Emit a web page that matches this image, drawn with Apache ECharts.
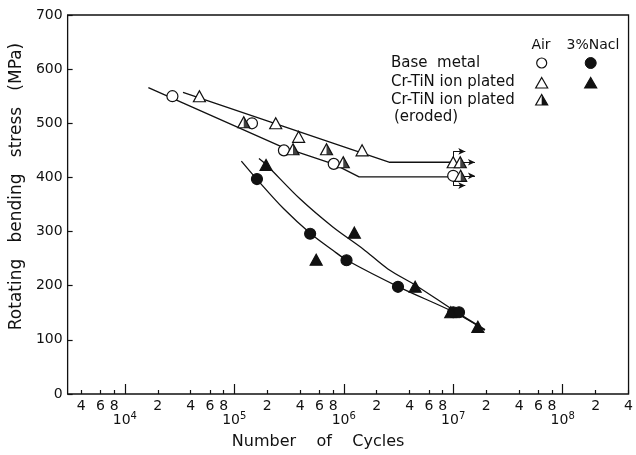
<!DOCTYPE html>
<html>
<head>
<meta charset="utf-8">
<script src="https://cdn.jsdelivr.net/npm/echarts@6/dist/echarts.min.js"></script>
<style>html,body{margin:0;padding:0;background:#fff}#c{width:636px;height:455px}</style>
</head>
<body>
<div id="c"></div>
<script>
// ---- data (cycles, stress MPa) ----
const baseAir = [[2.72e4,550],[1.45e5,500],[2.84e5,450],[8.1e5,425],[1.0e7,403]];
const crtinAir = [[4.8e4,550],[2.39e5,500],[3.87e5,475],[1.47e6,450],[1.0e7,428]];
const crtinErodedAir = [[1.22e5,502],[3.44e5,452],[6.96e5,452],[9.9e5,428],[1.16e7,428],[1.17e7,403]];
const baseNaCl = [[1.61e5,397],[4.93e5,296],[1.06e6,247],[3.13e6,198],[1.0e7,151],[1.13e7,151]];
const crtinNaCl = [[1.95e5,423],[5.6e5,248],[1.25e6,298],[4.49e6,198],[9.5e6,151],[1.68e7,124]];

// fitted S-N lines
const baseAirLine = [[1.64e4,566],[2.69e5,457],[8.22e5,424],[1.38e6,401],[1.0e7,401]];
const crtinAirLine = [[3.4e4,557],[2.63e6,428],[1.0e7,428]];
const baseNaClCurve = [[1.16e5,430],[1.6e5,397],[2.83e5,342],[5.0e5,296],[8.0e5,265],[1.07e6,247],[3.24e6,197],[1.02e7,151],[1.95e7,118]];
const crtinNaClCurve = [[1.68e5,435],[1.97e5,423],[4.0e5,360],[8.0e5,308],[1.5e6,268],[2.53e6,231],[4.6e6,200],[1.02e7,154],[1.95e7,119]];

// run-out (unbroken) indicators: [from, to, arrow?]
const runouts = [
  [[1.0e7,437],[1.0e7,448],false],
  [[1.0e7,448],[1.29e7,448],true],
  [[1.16e7,428],[1.58e7,428],true],
  [[1.17e7,403],[1.58e7,403],true],
  [[1.0e7,394],[1.0e7,385],false],
  [[1.0e7,385],[1.29e7,385],true]
];

// axes
const xMin = 3000, xMax = 4e8;
const minorTicks = [4e3,6e3,8e3,2e4,4e4,6e4,8e4,2e5,4e5,6e5,8e5,2e6,4e6,6e6,8e6,2e7,4e7,6e7,8e7,2e8,4e8];
const decadeTicks = [1e4,1e5,1e6,1e7,1e8];
const yMin = 0, yMax = 700, yStep = 100;

const FONT = 'DejaVu Sans';
const chart = echarts.init(document.getElementById('c'));

const half = 'path://M0,0 L1,1 L0,1 Z';
const markData = runouts.map(r => [
  {coord: r[0], symbol: 'none'},
  {coord: r[1], symbol: r[2] ? 'arrow' : 'none'}
]);

function lineSeries(data, smooth) {
  return {type:'line', data, smooth: smooth ? 0.3 : false,
    symbol:'none', silent:true, lineStyle:{color:'#111', width:1.3}, z:2, animation:false};
}
function scatter(data, symbol, fill, size, extra) {
  return Object.assign({type:'scatter', data, symbol, symbolSize:size, silent:true, animation:false,
    itemStyle:{color:fill, borderColor:'#111', borderWidth:1.2, opacity:1}, z:5}, extra||{});
}

const lx = 541.7, nx = 590.7;
const txt = (t, x, y, align, size) => ({type:'text', x, y, style:{text:t, fill:'#111', font:(size||15)+'px "'+FONT+'"', textAlign:align||'left', textVerticalAlign:'middle'}});
const tri = (cx, cy, fill) => ({type:'polygon', shape:{points:[[cx,cy-5.5],[cx+6,cy+5],[cx-6,cy+5]]}, style:{fill, stroke:'#111', lineWidth:1.2}});

chart.setOption({
  animation:false,
  grid:{left:67, right:3, top:15, bottom:59, show:true, borderColor:'#111', borderWidth:1.3, backgroundColor:'transparent'},
  xAxis:[
    {type:'log', min:xMin, max:xMax, position:'bottom',
     axisLine:{show:false}, axisTick:{show:false}, axisLabel:{show:false}, splitLine:{show:false},
     name:'Number    of    Cycles', nameLocation:'middle', nameGap:40,
     nameTextStyle:{fontFamily:FONT, fontSize:16, color:'#111', padding:[0,60,0,0]}},
    {type:'value', min:Math.log10(xMin), max:Math.log10(xMax), position:'bottom',
     axisLine:{show:false}, splitLine:{show:false},
     axisTick:{show:true, inside:true, length:4, customValues:minorTicks.map(Math.log10), lineStyle:{color:'#111', width:1.2}},
     axisLabel:{customValues:minorTicks.map(Math.log10), margin:5, fontFamily:FONT, fontSize:14, color:'#111',
       formatter:v => String(Math.round(Math.pow(10, v - Math.floor(v + 1e-9))))}},
    {type:'value', min:Math.log10(xMin), max:Math.log10(xMax), position:'bottom',
     axisLine:{show:false}, splitLine:{show:false},
     axisTick:{show:true, inside:true, length:10, customValues:decadeTicks.map(Math.log10), lineStyle:{color:'#111', width:1.2}},
     axisLabel:{customValues:decadeTicks.map(Math.log10), margin:17, color:'#111',
       formatter:v => '{b|10}{s|' + Math.round(v) + '}',
       rich:{b:{fontFamily:FONT, fontSize:14, color:'#111'}, s:{fontFamily:FONT, fontSize:10, color:'#111', padding:[0,0,8,0]}}}}
  ],
  yAxis:[{type:'value', min:yMin, max:yMax, interval:yStep,
    axisLine:{show:false}, splitLine:{show:false},
    axisTick:{show:true, inside:true, length:5, lineStyle:{color:'#111', width:1.2}},
    axisLabel:{margin:5, fontFamily:FONT, fontSize:14, color:'#111'},
    name:'Rotating   bending   stress   (MPa)', nameLocation:'middle', nameGap:34,
    nameTextStyle:{fontFamily:FONT, fontSize:17, color:'#111', padding:[0,0,0,36]}}],
  series:[
    Object.assign(lineSeries(baseAirLine,false), {markLine:{silent:true, animation:false, symbolSize:[5,7], label:{show:false},
      lineStyle:{color:'#111', width:1, type:'solid'}, data:markData}}),
    lineSeries(crtinAirLine,false),
    lineSeries(baseNaClCurve,true),
    lineSeries(crtinNaClCurve,true),
    scatter(baseAir,'circle','#fff',11),
    scatter(crtinAir,'triangle','#fff',[12,11]),
    scatter(crtinErodedAir,'triangle','#fff',[12,11]),
    scatter(crtinErodedAir,half,'#111',[6,11],{symbolOffset:[3,0], itemStyle:{color:'#111', borderWidth:0}, z:6}),
    scatter(baseNaCl,'circle','#111',11),
    scatter(crtinNaCl,'triangle','#111',[12,11])
  ],
  graphic:[
    txt('Air', 541, 45, 'center', 14),
    txt('3%Nacl', 593, 45, 'center', 14),
    txt('Base  metal', 391, 63),
    txt('Cr-TiN ion plated', 391, 82),
    txt('Cr-TiN ion plated', 391, 100),
    txt('(eroded)', 394, 117),
    {type:'circle', shape:{cx:lx, cy:63, r:5}, style:{fill:'#fff', stroke:'#111', lineWidth:1.2}},
    {type:'circle', shape:{cx:nx, cy:63, r:5.5}, style:{fill:'#111', stroke:'#111', lineWidth:1}},
    tri(lx, 83, '#fff'),
    tri(nx, 83, '#111'),
    tri(lx, 100, '#fff'),
    {type:'polygon', shape:{points:[[lx,94.5],[lx+6,105],[lx,105]]}, style:{fill:'#111'}}
  ]
});
</script>
</body>
</html>
